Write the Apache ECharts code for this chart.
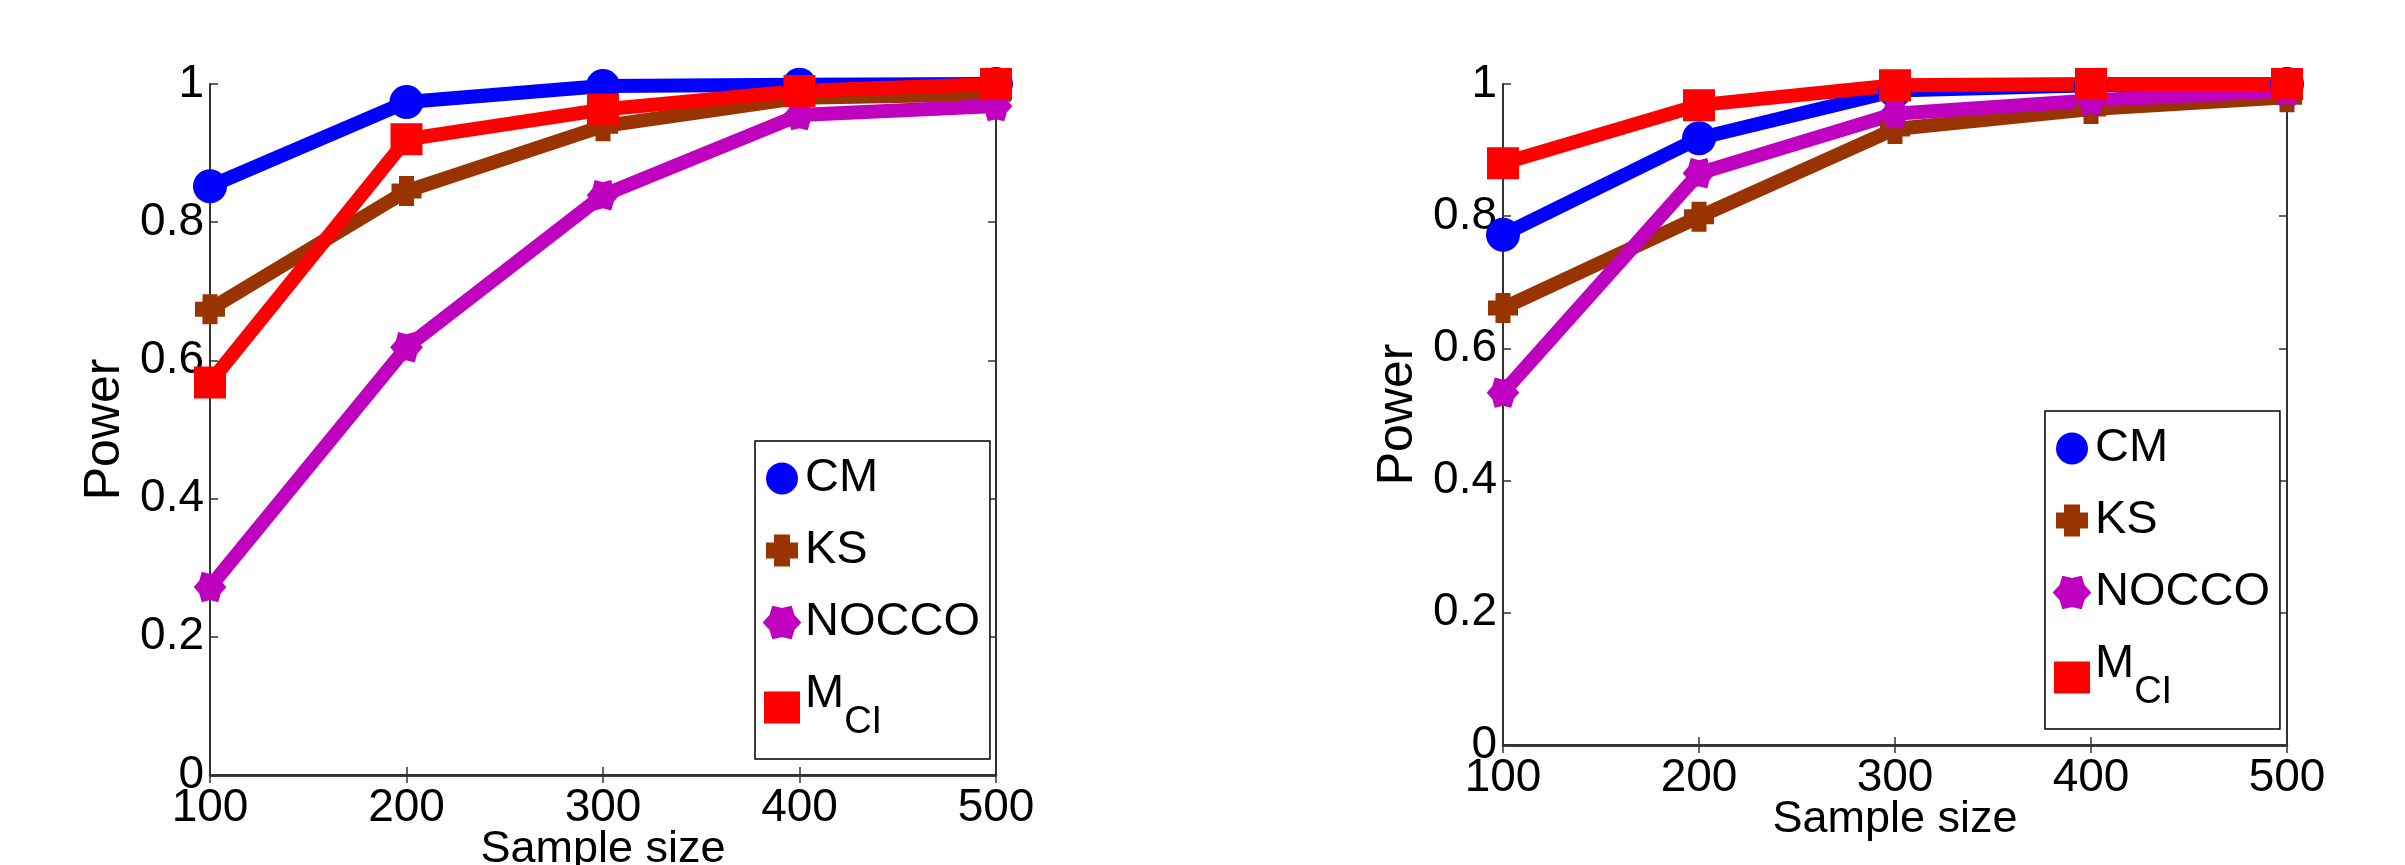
<!DOCTYPE html>
<html>
<head>
<meta charset="utf-8">
<script src="https://cdn.jsdelivr.net/npm/echarts@6/dist/echarts.min.js"></script>
<style>
html, body { margin: 0; padding: 0; background: #fff; }
#container { width: 2405px; height: 865px; }
</style>
</head>
<body>
<div id="container"></div>
<script>
// sample sizes on the x axis
var sampleSizes = [100, 200, 300, 400, 500];
var yTicks = [0, 0.2, 0.4, 0.6, 0.8, 1];
var methodNames = ['CM', 'KS', 'NOCCO', 'MCI'];

// left panel
var leftCM    = [0.852, 0.974, 0.997, 0.999, 1.0];
var leftKS    = [0.674, 0.845, 0.939, 0.980, 0.985];
var leftNOCCO = [0.272, 0.619, 0.839, 0.955, 0.968];
var leftMCI   = [0.568, 0.920, 0.963, 0.990, 1.0];

// right panel
var rightCM    = [0.772, 0.918, 0.990, 0.998, 1.0];
var rightKS    = [0.661, 0.799, 0.932, 0.962, 0.980];
var rightNOCCO = [0.533, 0.865, 0.955, 0.975, 0.990];
var rightMCI   = [0.880, 0.968, 0.998, 1.0, 1.0];

var FONT = '"Liberation Sans", Arial, sans-serif';
var plusPath = 'path://M2.5,0 H7.5 V2.5 H10 V7.5 H7.5 V10 H2.5 V7.5 H0 V2.5 H2.5 Z';
// six-pointed star with shallow notches (looks like matlab's hexagram with a thick edge)
var hexPath = 'path://M20,10 L16.5,13.75 L15,18.66 L10,17.5 L5,18.66 L3.5,13.75 L0,10 L3.5,6.25 L5,1.34 L10,2.5 L15,1.34 L16.5,6.25 Z';

var styles = {
	CM:    { color: '#0000FF', symbol: 'circle', size: 34, border: 0 },
	KS:    { color: '#993300', symbol: plusPath, size: 30, border: 0 },
	NOCCO: { color: '#BF00BF', symbol: hexPath, size: [30, 28], border: 2 },
	MCI:   { color: '#FF0000', symbol: 'rect', size: 32, border: 0 }
};

function toPoints(ys) {
	var pts = [];
	for (var i = 0; i < sampleSizes.length; i++) {
		pts.push([sampleSizes[i], ys[i]]);
	}
	return pts;
}

function makeSeries(name, ys, idx) {
	var s = styles[name];
	return {
		name: name,
		type: 'line',
		xAxisIndex: idx,
		yAxisIndex: idx,
		data: toPoints(ys),
		symbol: s.symbol,
		symbolSize: s.size,
		showAllSymbol: true,
		clip: false,
		silent: true,
		lineStyle: { color: s.color, width: 14 },
		itemStyle: { color: s.color, borderColor: s.color, borderWidth: s.border, opacity: 1 },
		emphasis: { disabled: true }
	};
}

function bottomAxis(gridIndex) {
	return {
		type: 'value', gridIndex: gridIndex, position: 'bottom',
		min: 100, max: 500, interval: 100,
		name: 'Sample size', nameLocation: 'middle', nameGap: 52, nameMoveOverlap: false,
		nameTextStyle: { fontSize: 45, fontFamily: FONT, color: '#000' },
		axisLine: { show: true, lineStyle: { color: '#000', width: 2.5 } },
		axisTick: { show: true, inside: true, length: 8, lineStyle: { color: '#333', width: 1.5 } },
		axisLabel: { fontSize: 46, fontFamily: FONT, color: '#000', margin: 10 },
		splitLine: { show: false }
	};
}

function topAxis(gridIndex) {
	return {
		type: 'value', gridIndex: gridIndex, position: 'top',
		min: 100, max: 500, interval: 100,
		axisLine: { show: true, lineStyle: { color: '#333', width: 2 } },
		axisTick: { show: true, inside: true, length: 8, lineStyle: { color: '#333', width: 1.5 } },
		axisLabel: { show: false },
		splitLine: { show: false }
	};
}

function leftAxis(gridIndex) {
	return {
		type: 'value', gridIndex: gridIndex, position: 'left',
		min: yTicks[0], max: yTicks[yTicks.length - 1], interval: 0.2,
		name: 'Power', nameLocation: 'middle', nameGap: 80, nameMoveOverlap: false,
		nameTextStyle: { fontSize: 50, fontFamily: FONT, color: '#000' },
		axisLine: { show: true, lineStyle: { color: '#333', width: 2 } },
		axisTick: { show: true, inside: true, length: 8, lineStyle: { color: '#333', width: 1.5 } },
		axisLabel: { fontSize: 46, fontFamily: FONT, color: '#000', margin: 6 },
		splitLine: { show: false }
	};
}

function rightAxis(gridIndex) {
	return {
		type: 'value', gridIndex: gridIndex, position: 'right',
		min: yTicks[0], max: yTicks[yTicks.length - 1], interval: 0.2,
		axisLine: { show: true, lineStyle: { color: '#333', width: 2 } },
		axisTick: { show: true, inside: true, length: 8, lineStyle: { color: '#333', width: 1.5 } },
		axisLabel: { show: false },
		splitLine: { show: false }
	};
}

function makeLegend(left, top) {
	var icons = { CM: 'circle', KS: plusPath, NOCCO: hexPath, MCI: 'rect' };
	return {
		orient: 'vertical',
		left: left,
		top: top,
		data: methodNames.map(function(n) { return { name: n, icon: icons[n] }; }),
		itemWidth: 36,
		itemHeight: 32,
		itemGap: 25,
		selectedMode: false,
		backgroundColor: '#fff',
		borderColor: '#000',
		borderWidth: 1.5,
		borderRadius: 0,
		padding: [14, 10, 15, 8],
		formatter: function(name) {
			return name === 'MCI' ? '{m|M}{s|CI}' : name;
		},
		textStyle: {
			fontSize: 47, fontFamily: FONT, color: '#000',
			rich: {
				m: { fontSize: 47, fontFamily: FONT, color: '#000', lineHeight: 47, padding: [0, 0, 26, 0] },
				s: { fontSize: 38, fontFamily: FONT, color: '#000', lineHeight: 38, padding: [30, 0, 0, 0] }
			}
		}
	};
}

var myChart = echarts.init(document.getElementById('container'));
var option = {
	backgroundColor: '#fff',
	animation: false,
	grid: [
		{ left: 210, top: 84, width: 786, height: 691, containLabel: false, outerBoundsMode: 'none' },
		{ left: 1503, top: 84, width: 784, height: 661, containLabel: false, outerBoundsMode: 'none' }
	],
	xAxis: [bottomAxis(0), bottomAxis(1), topAxis(0), topAxis(1)],
	yAxis: [leftAxis(0), leftAxis(1), rightAxis(0), rightAxis(1)],
	legend: [makeLegend(755, 441), makeLegend(2045, 411)],
	series: [
		makeSeries('CM', leftCM, 0),
		makeSeries('KS', leftKS, 0),
		makeSeries('NOCCO', leftNOCCO, 0),
		makeSeries('MCI', leftMCI, 0),
		makeSeries('CM', rightCM, 1),
		makeSeries('KS', rightKS, 1),
		makeSeries('NOCCO', rightNOCCO, 1),
		makeSeries('MCI', rightMCI, 1)
	]
};
myChart.setOption(option);
</script>
</body>
</html>
